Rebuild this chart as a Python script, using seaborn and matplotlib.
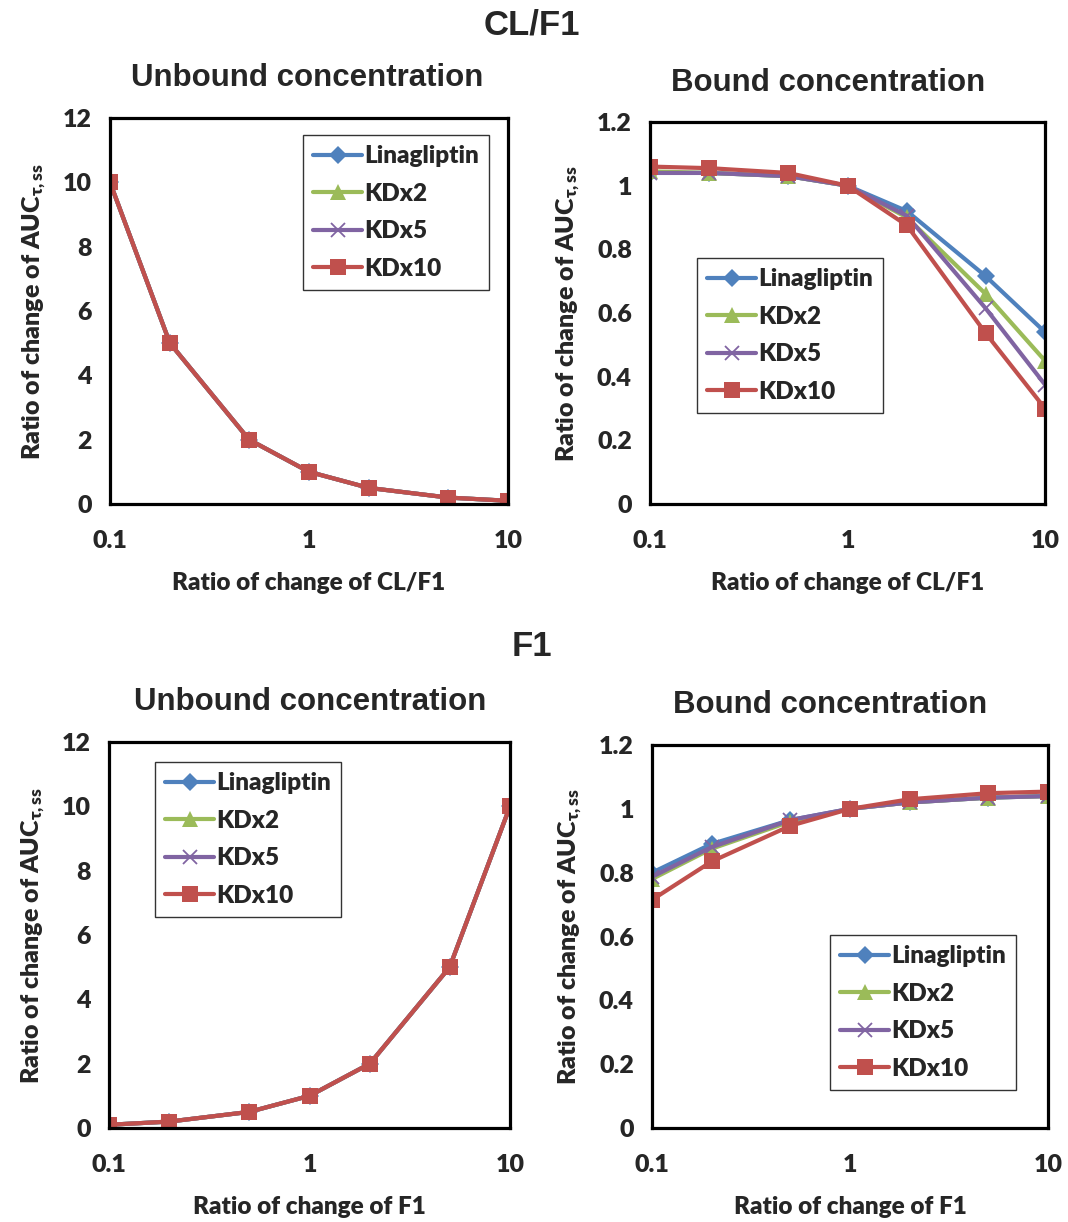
import numpy as np
import pandas as pd
import matplotlib
matplotlib.use("Agg")
import matplotlib.pyplot as plt
from matplotlib.ticker import FixedLocator, FixedFormatter, LogLocator, NullFormatter
import seaborn as sns

# ---- data ----
ratio = [0.1, 0.2, 0.5, 1, 2, 5, 10]
series_names = ["Linagliptin", "KDx2", "KDx5", "KDx10"]

# CL/F1 changes
clf_unbound_lina = [10.0, 5.0, 2.0, 1.0, 0.5, 0.2, 0.1]
clf_unbound_kd2 = [10.0, 5.0, 2.0, 1.0, 0.5, 0.2, 0.1]
clf_unbound_kd5 = [10.0, 5.0, 2.0, 1.0, 0.5, 0.2, 0.1]
clf_unbound_kd10 = [10.0, 5.0, 2.0, 1.0, 0.5, 0.2, 0.1]

clf_bound_lina = [1.04, 1.04, 1.03, 1.0, 0.92, 0.716, 0.54]
clf_bound_kd2 = [1.045, 1.04, 1.03, 1.0, 0.90, 0.66, 0.45]
clf_bound_kd5 = [1.04, 1.04, 1.03, 1.0, 0.905, 0.615, 0.375]
clf_bound_kd10 = [1.06, 1.055, 1.04, 1.0, 0.875, 0.537, 0.30]

# F1 changes
f1_unbound_lina = [0.1, 0.2, 0.5, 1.0, 2.0, 5.0, 10.0]
f1_unbound_kd2 = [0.1, 0.2, 0.5, 1.0, 2.0, 5.0, 10.0]
f1_unbound_kd5 = [0.1, 0.2, 0.5, 1.0, 2.0, 5.0, 10.0]
f1_unbound_kd10 = [0.1, 0.2, 0.5, 1.0, 2.0, 5.0, 10.0]

f1_bound_lina = [0.80, 0.89, 0.965, 1.0, 1.02, 1.035, 1.04]
f1_bound_kd2 = [0.78, 0.875, 0.96, 1.0, 1.02, 1.035, 1.04]
f1_bound_kd5 = [0.787, 0.88, 0.965, 1.0, 1.02, 1.035, 1.04]
f1_bound_kd10 = [0.715, 0.835, 0.947, 1.0, 1.03, 1.049, 1.054]

x_ticks = [0.1, 1, 10]
x_ticklabels = ["0.1", "1", "10"]
unbound_yticks = [0, 2, 4, 6, 8, 10, 12]
unbound_yticklabels = ["0", "2", "4", "6", "8", "10", "12"]
bound_yticks = [0, 0.2, 0.4, 0.6, 0.8, 1.0, 1.2]
bound_yticklabels = ["0", "0.2", "0.4", "0.6", "0.8", "1", "1.2"]

# ---- style ----
sns.set_theme(style="white")
TXT = "Lato"
WT = "heavy"
HEAD = "Liberation Sans"
plt.rcParams["font.family"] = [TXT, "DejaVu Sans"]
plt.rcParams["mathtext.fontset"] = "custom"
plt.rcParams["mathtext.rm"] = "Lato:heavy"
plt.rcParams["mathtext.it"] = "Lato:heavy"
plt.rcParams["mathtext.bf"] = "Lato:heavy"

colors = {"Linagliptin": "#4F81BD", "KDx2": "#9BBB59", "KDx5": "#8064A2", "KDx10": "#C0504D"}
marker_kw = {
    "Linagliptin": dict(marker="D", markersize=9, markeredgewidth=0),
    "KDx2": dict(marker="^", markersize=11, markeredgewidth=0),
    "KDx5": dict(marker="x", markersize=10, markeredgewidth=1.3),
    "KDx10": dict(marker="s", markersize=11, markeredgewidth=0),
}

W, H = 1068, 1222
fig = plt.figure(figsize=(W / 100, H / 100), dpi=100)


def rect(l, t, r, b):
    return [l / W, 1 - b / H, (r - l) / W, (b - t) / H]


panels = [
    dict(box=(110, 118, 508, 504), data=[clf_unbound_lina, clf_unbound_kd2, clf_unbound_kd5, clf_unbound_kd10],
         ylim=(0, 12), yt=unbound_yticks, ytl=unbound_yticklabels, xlabel="Ratio of change of CL/F1",
         legend=(303, 135)),
    dict(box=(650, 122, 1045, 504), data=[clf_bound_lina, clf_bound_kd2, clf_bound_kd5, clf_bound_kd10],
         ylim=(0, 1.2), yt=bound_yticks, ytl=bound_yticklabels, xlabel="Ratio of change of CL/F1",
         legend=(697, 258)),
    dict(box=(109, 742, 510, 1128), data=[f1_unbound_lina, f1_unbound_kd2, f1_unbound_kd5, f1_unbound_kd10],
         ylim=(0, 12), yt=unbound_yticks, ytl=unbound_yticklabels, xlabel="Ratio of change of F1",
         legend=(155, 762)),
    dict(box=(652, 745, 1048, 1128), data=[f1_bound_lina, f1_bound_kd2, f1_bound_kd5, f1_bound_kd10],
         ylim=(0, 1.2), yt=bound_yticks, ytl=bound_yticklabels, xlabel="Ratio of change of F1",
         legend=(830, 935)),
]

for p in panels:
    ax = fig.add_axes(rect(*p["box"]))
    for name, vals in zip(series_names, p["data"]):
        sns.lineplot(x=ratio, y=vals, ax=ax, color=colors[name], linewidth=3.0,
                     label=name, markeredgecolor=colors[name], **marker_kw[name])
    ax.set_xscale("log")
    ax.set_xlim(0.1, 10)
    ax.set_ylim(*p["ylim"])
    ax.xaxis.set_major_locator(FixedLocator(x_ticks))
    ax.xaxis.set_major_formatter(FixedFormatter(x_ticklabels))
    ax.xaxis.set_minor_locator(LogLocator(base=10, subs=np.arange(2, 10)))
    ax.xaxis.set_minor_formatter(NullFormatter())
    ax.yaxis.set_major_locator(FixedLocator(p["yt"]))
    ax.yaxis.set_major_formatter(FixedFormatter(p["ytl"]))
    for s in ax.spines.values():
        s.set_visible(True)
        s.set_color("black")
        s.set_linewidth(2.3)
    ax.tick_params(axis="both", which="major", direction="out", length=6, width=2,
                   color="black", labelsize=18, pad=7)
    ax.tick_params(axis="x", which="minor", direction="out", length=4, width=2, color="black")
    ax.tick_params(axis="x", which="major", pad=13)
    for lab in ax.get_xticklabels() + ax.get_yticklabels():
        lab.set_fontweight(WT)
        lab.set_fontfamily(TXT)
    ax.set_xlabel(p["xlabel"], fontsize=17.5, fontweight=WT, labelpad=14)
    ax.set_ylabel(r"Ratio of change of AUC$_{\tau,ss}$", fontsize=18, fontweight=WT, labelpad=11)
    ax.grid(False)
    lx, ly = p["legend"]
    leg = ax.legend(loc="upper left", bbox_to_anchor=(lx / W, 1 - ly / H), bbox_transform=fig.transFigure,
                    frameon=True, fancybox=False, edgecolor="black", handlelength=2.0, handletextpad=0.1,
                    labelspacing=0.64, borderpad=0.42, borderaxespad=0,
                    prop=dict(family=TXT, weight=WT, size=17.5))
    leg.get_frame().set_linewidth(1.0)

# headings
fig.text(532 / W, 1 - 25 / H, "CL/F1", ha="center", va="center", fontsize=25, fontweight="bold", family=HEAD)
fig.text(532 / W, 1 - 647 / H, "F1", ha="center", va="center", fontsize=25, fontweight="bold", family=HEAD)
fig.text(307 / W, 1 - 78 / H, "Unbound concentration", ha="center", va="center", fontsize=22.5, fontweight="bold", family=HEAD)
fig.text(828 / W, 1 - 83 / H, "Bound concentration", ha="center", va="center", fontsize=22.5, fontweight="bold", family=HEAD)
fig.text(310 / W, 1 - 702 / H, "Unbound concentration", ha="center", va="center", fontsize=22.5, fontweight="bold", family=HEAD)
fig.text(830 / W, 1 - 705 / H, "Bound concentration", ha="center", va="center", fontsize=22.5, fontweight="bold", family=HEAD)

fig.savefig("out.png", dpi=100, facecolor="white")
